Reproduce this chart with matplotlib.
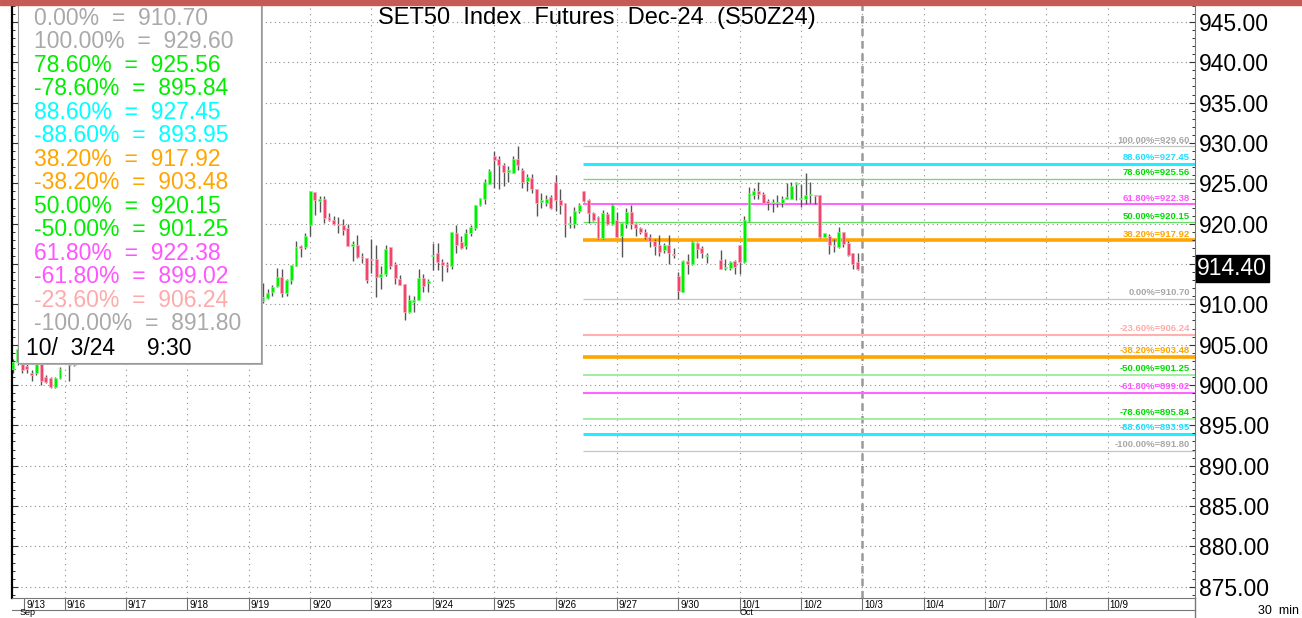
import numpy as np
import matplotlib.pyplot as plt
import matplotlib.transforms as mtransforms
from matplotlib.patches import Rectangle
from matplotlib.lines import Line2D

# 30 min bars, 13 per session day, bar 0 = first bar of 9/16
opens = [
    902.0, 902.8, 904.3, 902.3, 901.5, 901.5, 902.6, 901.0, 900.9, 899.8, 900.9,
    903.0, 903.5, 902.5, 903.2, 904.0, 904.6, 905.2, 904.8, 905.5, 906.0, 905.4, 906.1, 906.6,
    906.2, 907.0, 906.5, 907.4, 908.0, 907.6, 908.3, 907.8, 907.2, 907.9, 908.5, 908.1, 908.8,
    908.4, 909.0, 908.2, 907.6, 908.3, 909.1, 908.7, 909.5, 910.2, 909.6, 910.4, 910.9, 910.3,
    910.8, 911.4, 910.9, 910.4, 910.8, 911.5, 912.3, 913.4, 911.4, 913.0, 914.8, 917.2, 917.1,
    919.8, 923.9, 922.8, 923.1, 920.8, 920.5, 920.0, 919.8, 919.4, 917.2, 917.4, 916.0, 915.8,
    915.6, 915.6, 913.4, 913.7, 917.1, 915.0, 913.1, 912.5, 909.0, 910.3, 910.5, 913.3, 912.6,
    916.0, 916.3, 915.3, 915.0, 914.7, 918.9, 917.7, 917.2, 918.8, 919.4, 922.3, 923.1, 924.9,
    928.4, 928.0, 927.3, 926.4, 926.3, 928.0, 926.7, 925.3, 925.7, 924.3, 922.7, 922.6, 923.3,
    925.1, 922.9, 922.5, 920.0, 920.0, 921.6, 924.0, 922.9, 921.3, 920.8, 918.2, 921.2, 919.9,
    920.4, 918.5, 920.0, 921.5, 919.9, 919.4, 919.0, 918.4, 917.9, 917.3, 916.7, 917.4, 916.2,
    913.5, 911.5, 915.4, 915.0, 917.6, 917.0, 916.0, np.nan, np.nan, 915.5, 914.5, 914.5, 915.4,
    917.3, 915.2, 920.3, 923.6, 924.0, 923.7, 922.8, 922.5, 922.6, 922.6, 923.1, 923.1, 924.9,
    923.1, 923.1, 923.6, 923.6, 923.5, 918.3, 918.5, 917.3, 917.1, 919.0, 917.6, 916.3, 915.3,
]
highs = [
    903.2, 905.0, 904.6, 903.0, 901.9, 903.0, 902.8, 901.2, 901.0, 901.0, 902.2,
    904.2, 903.8, 903.6, 904.5, 905.0, 905.8, 905.6, 905.9, 906.5, 906.3, 906.5, 907.0, 907.0,
    907.4, 907.3, 907.8, 908.4, 908.3, 908.7, 908.6, 908.1, 908.2, 908.9, 908.8, 909.2, 909.0,
    909.4, 909.3, 908.5, 908.6, 909.4, 909.4, 909.8, 910.6, 910.5, 910.7, 911.3, 911.2, 911.1,
    911.7, 911.8, 911.2, 912.6, 911.9, 912.4, 914.5, 914.4, 913.1, 914.9, 917.9, 917.4, 918.9,
    924.0, 923.9, 923.4, 923.4, 921.3, 921.0, 920.8, 920.6, 919.9, 917.8, 918.6, 916.3, 915.8,
    918.1, 917.3, 914.8, 917.3, 917.1, 915.2, 913.6, 912.5, 911.1, 911.0, 914.4, 913.8, 913.1,
    917.6, 917.6, 915.6, 915.3, 919.0, 919.8, 918.5, 919.3, 919.8, 922.3, 923.2, 925.5, 926.8,
    929.0, 928.4, 927.5, 927.1, 928.4, 929.6, 926.9, 926.2, 926.1, 924.3, 923.8, 923.5, 923.6,
    926.0, 924.3, 922.5, 920.9, 922.1, 922.6, 924.0, 923.0, 921.4, 920.9, 921.7, 921.4, 922.4,
    921.5, 920.1, 921.9, 922.3, 920.1, 919.6, 919.3, 918.7, 918.1, 918.6, 917.6, 918.6, 917.0,
    914.0, 915.5, 916.2, 917.8, 917.7, 917.2, 916.3, np.nan, np.nan, 916.7, 915.6, 915.4, 915.5,
    917.3, 920.9, 924.6, 924.4, 925.1, 923.9, 923.0, 923.1, 923.5, 923.4, 925.0, 925.2, 925.2,
    924.9, 926.3, 925.1, 923.6, 923.5, 918.9, 918.7, 918.1, 919.6, 919.0, 917.8, 916.4, 916.3,
]
lows = [
    901.5, 902.5, 901.5, 901.5, 900.5, 901.3, 900.0, 900.2, 899.6, 899.6, 900.8,
    902.8, 900.5, 902.4, 903.0, 903.7, 904.3, 904.5, 904.5, 905.2, 905.1, 905.2, 905.8, 905.8,
    905.9, 906.2, 906.2, 907.1, 907.3, 907.4, 907.5, 906.9, 906.9, 907.6, 907.8, 907.9, 908.1,
    908.0, 907.9, 907.3, 907.4, 908.1, 908.4, 908.5, 909.2, 909.3, 909.4, 910.1, 910.1, 910.0,
    910.5, 910.6, 910.2, 910.2, 910.7, 911.0, 912.2, 910.9, 911.0, 912.5, 914.7, 915.9, 916.9,
    918.5, 921.1, 921.5, 920.1, 920.3, 919.8, 918.9, 918.6, 917.2, 915.4, 915.8, 915.1, 912.6,
    913.9, 910.9, 911.9, 913.5, 914.4, 912.5, 912.4, 908.1, 908.9, 909.0, 910.5, 911.5, 911.5,
    914.3, 914.2, 912.9, 914.0, 914.4, 916.4, 916.8, 916.8, 918.5, 919.2, 922.2, 922.4, 924.9,
    924.4, 924.3, 924.7, 925.1, 926.3, 926.7, 924.4, 924.0, 923.8, 921.0, 922.0, 922.2, 921.8,
    921.6, 921.2, 918.4, 919.5, 919.5, 921.3, 922.7, 920.1, 920.3, 918.1, 918.1, 919.8, 919.8,
    918.4, 915.9, 919.5, 919.3, 918.5, 918.7, 918.1, 917.1, 916.1, 916.0, 916.4, 915.0, 915.8,
    910.7, 911.5, 913.7, 914.9, 915.8, 915.8, 915.1, np.nan, np.nan, 914.4, 914.3, 914.3, 913.8,
    913.8, 915.1, 920.2, 923.0, 923.0, 922.5, 921.7, 921.5, 922.1, 922.1, 923.1, 923.0, 922.9,
    922.1, 922.4, 922.6, 922.4, 918.2, 918.3, 916.2, 916.5, 917.0, 917.1, 916.0, 914.4, 914.2,
]
closes = [
    902.8, 904.5, 901.9, 902.0, 901.3, 902.8, 900.5, 900.4, 899.7, 900.9, 902.0,
    903.8, 902.5, 903.2, 904.0, 904.6, 905.2, 904.8, 905.5, 906.0, 905.4, 906.1, 906.6, 906.2,
    907.0, 906.5, 907.4, 908.0, 907.6, 908.3, 907.8, 907.2, 907.9, 908.5, 908.1, 908.8, 908.4,
    909.0, 908.2, 907.6, 908.3, 909.1, 908.7, 909.5, 910.2, 909.6, 910.4, 910.9, 910.3, 910.8,
    911.4, 910.9, 910.6, 910.9, 911.4, 912.1, 913.4, 911.4, 913.0, 914.9, 917.1, 917.0, 918.5,
    924.0, 922.9, 923.1, 920.7, 920.4, 920.0, 919.8, 919.2, 917.2, 917.5, 915.9, 915.7, 913.0,
    915.5, 913.4, 913.8, 916.9, 914.8, 913.3, 912.4, 909.0, 910.5, 910.5, 913.3, 912.3, 912.9,
    916.1, 915.3, 914.9, 914.6, 919.0, 917.3, 917.0, 918.9, 919.6, 922.3, 923.2, 925.1, 926.5,
    927.9, 927.3, 926.4, 926.6, 928.0, 927.3, 925.1, 925.8, 924.3, 922.6, 922.9, 923.1, 921.9,
    922.9, 922.3, 920.0, 920.1, 921.6, 922.3, 922.8, 921.3, 920.5, 918.2, 921.3, 919.9, 922.3,
    918.4, 920.1, 921.5, 919.9, 919.4, 919.0, 918.3, 917.9, 917.2, 916.5, 917.4, 916.4, 916.1,
    911.6, 915.4, 915.0, 917.7, 916.8, 916.3, 916.1, np.nan, np.nan, 914.4, 914.6, 915.3, 914.6,
    915.3, 920.4, 923.8, 924.1, 923.7, 922.6, 922.5, 922.7, 922.7, 923.1, 923.3, 924.7, 925.0,
    923.2, 923.6, 923.7, 923.4, 918.3, 918.8, 917.3, 917.2, 919.0, 917.5, 916.1, 915.0, 914.4,
]
bars = np.arange(-11, 169)

days = ['9/16', '9/17', '9/18', '9/19', '9/20', '9/23', '9/24', '9/25', '9/26',
        '9/27', '9/30', '10/1', '10/2', '10/3', '10/4', '10/7', '10/8', '10/9']
bars_per_day = 13

fib_pct = ['0.00%', '100.00%', '78.60%', '-78.60%', '88.60%', '-88.60%', '38.20%',
           '-38.20%', '50.00%', '-50.00%', '61.80%', '-61.80%', '-23.60%', '-100.00%']
fib_val = [910.70, 929.60, 925.56, 895.84, 927.45, 893.95, 917.92,
           903.48, 920.15, 901.25, 922.38, 899.02, 906.24, 891.80]
last_price = 914.40
title = 'SET50  Index  Futures  Dec-24  (S50Z24)'
stamp = '10/  3/24     9:30'

# colours per fib ratio: (legend text, line, label, line width)
fib_style = {
    '0.00': ('#a9a9a9', '#c4c4c4', '#a8a8a8', 0.9),
    '100.00': ('#a9a9a9', '#c4c4c4', '#a8a8a8', 0.9),
    '78.60': ('#00ee00', '#66dd66', '#00dd00', 0.9),
    '88.60': ('#00ffff', '#22eeff', '#22ddff', 2.2),
    '38.20': ('#ffa500', '#ffa500', '#ffa500', 2.6),
    '50.00': ('#00ee00', '#66dd66', '#00dd00', 0.9),
    '61.80': ('#ff55ff', '#ff66ff', '#ff55ff', 1.5),
    '23.60': ('#ffaaaa', '#ffb0b0', '#ffaaaa', 1.5),
}
neg_green = '#99ee99'


def ratio_key(pct):
    return pct.lstrip('-').rstrip('%')


plt.rcParams['font.family'] = ['Liberation Sans', 'DejaVu Sans']

W, H = 1302, 618
fig = plt.figure(figsize=(W / 100, H / 100), dpi=100)


def fx(px):
    return px / W


def fy(py):
    return 1 - py / H


ax = fig.add_axes([fx(12), fy(598), fx(1195) - fx(12), fy(5) - fy(598)])
x_left, x_right = -11.17, 239.5
ax.set_xlim(x_left, x_right)
ax.set_ylim(873.6, 947.1)

# grid
day_starts = np.arange(len(days)) * bars_per_day
ax.set_yticks(np.arange(875, 950, 5))
ax.set_yticks(np.arange(874, 948, 1), minor=True)
ax.set_xticks(np.r_[-8.6, day_starts])
ax.set_xticklabels([])
ax.grid(axis='y', which='major', color='#8c8c8c', linestyle=(0, (1, 3)), lw=0.8)
for d in day_starts:
    ax.axvline(d, color='#8c8c8c', linestyle=(0, (1, 4)), lw=0.8, zorder=0.5)

ax.yaxis.tick_right()
ax.tick_params(axis='y', which='both', left=True, right=True, labelleft=False,
               labelright=True, direction='in', color='#333333', labelsize=16.5, pad=3)
ax.tick_params(axis='y', which='major', length=4)
ax.tick_params(axis='y', which='minor', length=2.5, width=0.7)
ax.yaxis.set_major_formatter(plt.FormatStrFormatter('%.2f'))
ax.tick_params(axis='x', direction='out', length=8.5, color='#707070', width=0.8)

ax.spines['top'].set_visible(False)
ax.spines['left'].set_color('black')
ax.spines['left'].set_linewidth(1.6)
ax.spines['right'].set_color('#777777')
ax.spines['bottom'].set_color('#777777')

# fib levels
fib_start = 109.8
blend_y = mtransforms.blended_transform_factory(ax.transAxes, ax.transData)
for pct, val in zip(fib_pct, fib_val):
    key = ratio_key(pct)
    txt_c, line_c, lab_c, lw = fib_style[key]
    if pct.startswith('-') and key in ('78.60', '50.00'):
        line_c = neg_green
        lw = 1.3
    ax.hlines(val, fib_start, x_right, color=line_c, lw=lw, zorder=1.5)
    ax.annotate(f'{pct}={val:.2f}', xy=(0.9958, val), xycoords=blend_y,
                xytext=(0, 1.2), textcoords='offset points', ha='right', va='bottom',
                fontsize=6.8, fontweight='bold', color=lab_c, zorder=4)

# candles
o = np.array(opens)
c = np.array(closes)
h = np.array(highs)
l = np.array(lows)
ok = ~np.isnan(o)
up = ok & (c >= o)
dn = ok & (c < o)
ax.vlines(bars[ok], l[ok], h[ok], color='#555555', lw=1.0, zorder=2)
bot = np.minimum(o, c)
hgt = np.maximum(np.abs(c - o), 0.12)
ax.bar(bars[up], hgt[up], bottom=bot[up], width=0.62, color='#00ee00',
       edgecolor='#80ff80', lw=0.5, zorder=3)
ax.bar(bars[dn], hgt[dn], bottom=bot[dn], width=0.62, color='#f0466e',
       edgecolor='#ffb0c0', lw=0.5, zorder=3)

# current time marker
ax.axvline(13 * bars_per_day, color='#9a9a9a', lw=1.8, linestyle=(0, (3, 2)), zorder=1)

# last price box
ax.text(1.002, last_price, f'{last_price:.2f}', transform=blend_y, ha='left',
        va='center', fontsize=16.5, color='white', zorder=6,
        bbox=dict(boxstyle='square,pad=0.08', fc='black', ec='black'))

# date row
narrow = ['Liberation Sans Narrow', 'Liberation Sans']
blend_x = mtransforms.blended_transform_factory(ax.transData, ax.transAxes)
ax.text(-8.2, -0.0115, '9/13', transform=blend_x, ha='left', va='center',
        fontsize=7, family=narrow, clip_on=False)
for d, lab in zip(day_starts, days):
    ax.text(d + 0.4, -0.0115, lab, transform=blend_x, ha='left', va='center',
            fontsize=7, family=narrow, clip_on=False)
fig.add_artist(Line2D([fx(12), fx(1195)], [fy(610), fy(610)], color='#777777', lw=0.8))
fig.add_artist(Line2D([fx(1195), fx(1195)], [fy(598), fy(618)], color='#777777', lw=1.0))
fig.text(fx(20), fy(617), 'Sep', fontsize=6.5, va='bottom', family=narrow)
fig.text(fx(740), fy(617), 'Oct', fontsize=6.5, va='bottom', family=narrow)
fig.text(fx(1258), fy(611), '30  min', fontsize=9, va='center')

# title
fig.text(fx(597), fy(18), title, ha='center', va='center', fontsize=17, zorder=6)

# top band
fig.add_artist(Rectangle((0, fy(5)), 1, 5 / H, transform=fig.transFigure,
                         color='#c55a57', zorder=10))

# legend box
fig.add_artist(Rectangle((fx(20), fy(364.5)), fx(263) - fx(20), (364.5 - 5) / H,
                         transform=fig.transFigure, fc='#b0b0b0', ec='none', zorder=7))
fig.add_artist(Rectangle((fx(18), fy(362.5)), fx(261) - fx(18), (362.5 - 3) / H,
                         transform=fig.transFigure, fc='white', ec='#9a9a9a', lw=0.8, zorder=8))
for k, (pct, val) in enumerate(zip(fib_pct, fib_val)):
    txt_c = fib_style[ratio_key(pct)][0]
    fig.text(fx(34), fy(18.3 + 23.5 * k), f'{pct}  =  {val:.2f}', fontsize=16.5,
             color=txt_c, va='center', ha='left', zorder=9)
fig.text(fx(26), fy(348.3), stamp, fontsize=16.5, color='black', va='center',
         ha='left', zorder=9)

fig.savefig('out.png', dpi=100)
